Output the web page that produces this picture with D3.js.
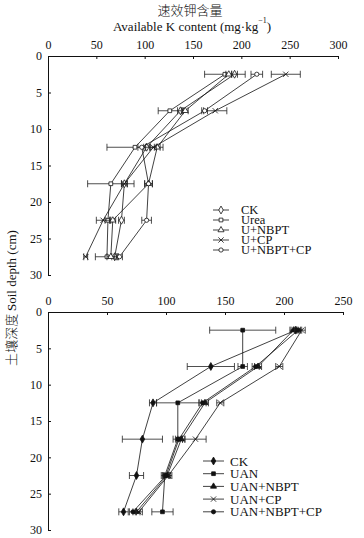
<!DOCTYPE html>
<html><head><meta charset="utf-8">
<script src="https://cdn.jsdelivr.net/npm/d3@7"></script>
<style>body{margin:0;background:#fff}svg{display:block}text{font-family:"Liberation Serif","DejaVu Serif",serif;fill:#111}</style>
</head><body><svg id="c" width="364" height="538"></svg>
<script>
const depths = [2.5, 7.5, 12.5, 17.5, 22.5, 27.5];
const yTicks = [0, 5, 10, 15, 20, 25, 30];
const topTicks = [0, 50, 100, 150, 200, 250, 300];
const bottomTicks = [0, 50, 100, 150, 200, 250];

const topNames = ["CK", "Urea", "U+NBPT", "U+CP", "U+NBPT+CP"];
const topCK = [193, 137, 102, 79, 76, 69];
const topUrea = [183, 126, 90, 65, 62, 61];
const topUNBPT = [187, 142, 113, 104, 67, 65];
const topUCP = [246, 173, 109, 79, 57, 39];
const topUNBPTCP = [216, 162, 97, 104, 102, 74];
const topCKsd = [3, 3, 3, 3, 3, 3];
const topUreaSd = [21, 12, 29, 24, 3, 12];
const topUNBPTsd = [3, 3, 3, 4, 3, 4];
const topUCPsd = [15, 12, 3, 3, 7, 2];
const topUNBPTCPsd = [6, 3, 4, 4, 5, 3];

const botNames = ["CK", "UAN", "UAN+NBPT", "UAN+CP", "UAN+NBPT+CP"];
const botCK = [210, 138, 89, 80, 75, 64];
const botUAN = [165, 165, 110, 110, 99, 97];
const botUNBPT = [208, 178, 133, 113, 101, 75];
const botUCP = [215, 196, 146, 125, 102, 77];
const botUNBPTCP = [212, 176, 131, 111, 100, 72];
const botCKsd = [4, 20, 3, 17, 6, 4];
const botUANsd = [28, 4, 18, 4, 3, 9];
const botUNBPTsd = [3, 3, 3, 3, 3, 3];
const botUCPsd = [3, 3, 3, 9, 3, 3];
const botUNBPTCPsd = [3, 3, 3, 3, 3, 3];

const svg = d3.select("#c");

function panel(opt) {
  const x = d3.scaleLinear().domain(opt.xDomain).range([48, opt.xRight]);
  const y = d3.scaleLinear().domain([0, 30]).range([opt.yTop, opt.yBottom]);
  const g = svg.append("g");
  const xa = g.append("g").attr("transform", `translate(0,${opt.yTop})`)
    .call(d3.axisTop(x).tickValues(opt.xTicks).tickSize(-3).tickPadding(6).tickFormat(d3.format("d")));
  xa.selectAll("text").attr("font-size", 12).attr("dy", "-0.1em");
  xa.select(".domain").attr("stroke", "#111");
  xa.selectAll(".tick line").attr("stroke", "#111");
  const ya = g.append("g").attr("transform", `translate(48,0)`)
    .call(d3.axisLeft(y).tickValues(yTicks).tickSize(-3).tickPadding(6));
  ya.selectAll("text").attr("font-size", 12);
  ya.select(".domain").attr("stroke", "#111");
  ya.selectAll(".tick line").attr("stroke", "#111");

  const line = d3.line().x(d => x(d.v)).y(d => y(d.d));
  opt.series.forEach((s, i) => {
    const pts = s.vals.map((v, k) => ({v, d: depths[k], sd: s.sd[k]}));
    g.append("path").attr("d", line(pts)).attr("fill", "none").attr("stroke", "#111").attr("stroke-width", 0.8);
    const eb = g.append("g").attr("stroke", "#222").attr("stroke-width", 0.8);
    pts.forEach(p => {
      eb.append("line").attr("x1", x(p.v - p.sd)).attr("x2", x(p.v + p.sd)).attr("y1", y(p.d)).attr("y2", y(p.d));
      eb.append("line").attr("x1", x(p.v - p.sd)).attr("x2", x(p.v - p.sd)).attr("y1", y(p.d) - 3.5).attr("y2", y(p.d) + 3.5);
      eb.append("line").attr("x1", x(p.v + p.sd)).attr("x2", x(p.v + p.sd)).attr("y1", y(p.d) - 3.5).attr("y2", y(p.d) + 3.5);
    });
    pts.forEach(p => drawMarker(g, s.sym, x(p.v), y(p.d), opt.filled));
  });

  opt.series.forEach((s, i) => {
    const ly = opt.legY + i * opt.legStep;
    g.append("line").attr("x1", opt.legX).attr("x2", opt.legX + opt.legLen).attr("y1", ly).attr("y2", ly)
      .attr("stroke", "#111").attr("stroke-width", 0.8);
    drawMarker(g, s.sym, opt.legX + opt.legLen / 2, ly, opt.filled);
    g.append("text").attr("x", opt.legX + opt.legLen + opt.legGap).attr("y", ly).attr("dy", "0.35em")
      .attr("font-size", opt.legFont).text(s.name);
  });
}

function drawMarker(g, sym, cx, cy, filled) {
  const sizes = {diamond: 18, square: 14, triangle: 16, x: 20, circle: 14};
  const types = {diamond: d3.symbolDiamond, square: d3.symbolSquare, triangle: d3.symbolTriangle, x: d3.symbolX, circle: d3.symbolCircle};
  const p = g.append("path").attr("d", d3.symbol().type(types[sym]).size(sizes[sym])())
    .attr("transform", `translate(${cx},${cy})`).attr("stroke", "#111").attr("stroke-width", 0.8);
  if (sym === "x") p.attr("fill", "none");
  else p.attr("fill", filled ? "#111" : "#fff");
}

panel({
  xDomain: [0, 300], xRight: 338, xTicks: topTicks, yTop: 56, yBottom: 275, filled: false,
  series: [
    {name: topNames[0], vals: topCK, sd: topCKsd, sym: "diamond"},
    {name: topNames[1], vals: topUrea, sd: topUreaSd, sym: "square"},
    {name: topNames[2], vals: topUNBPT, sd: topUNBPTsd, sym: "triangle"},
    {name: topNames[3], vals: topUCP, sd: topUCPsd, sym: "x"},
    {name: topNames[4], vals: topUNBPTCP, sd: topUNBPTCPsd, sym: "circle"}
  ],
  legX: 213, legLen: 16, legGap: 12, legY: 210, legStep: 10, legFont: 12.5
});

panel({
  xDomain: [0, 250], xRight: 343, xTicks: bottomTicks, yTop: 312, yBottom: 530, filled: true,
  series: [
    {name: botNames[0], vals: botCK, sd: botCKsd, sym: "diamond"},
    {name: botNames[1], vals: botUAN, sd: botUANsd, sym: "square"},
    {name: botNames[2], vals: botUNBPT, sd: botUNBPTsd, sym: "triangle"},
    {name: botNames[3], vals: botUCP, sd: botUCPsd, sym: "x"},
    {name: botNames[4], vals: botUNBPTCP, sd: botUNBPTCPsd, sym: "circle"}
  ],
  legX: 203, legLen: 21, legGap: 6, legY: 461, legStep: 12.7, legFont: 13
});

svg.append("text").attr("x", 190).attr("y", 10).attr("dy", "0.35em").attr("text-anchor", "middle")
  .attr("font-size", 13).style("font-family", "'Noto Sans CJK SC',sans-serif").style("font-weight", 300).text("速效钾含量");
const t = svg.append("text").attr("x", 192).attr("y", 26).attr("dy", "0.35em").attr("text-anchor", "middle").attr("font-size", 13);
t.append("tspan").text("Available K content (mg·kg");
t.append("tspan").attr("font-size", 8).attr("dy", "-0.9em").text("−1");
t.append("tspan").attr("dy", "0.55em").text(")");

const yl = svg.append("text").attr("transform", "translate(11,298) rotate(-90)").attr("text-anchor", "middle")
  .attr("dy", "0.35em").attr("font-size", 13);
yl.append("tspan").style("font-family", "'Noto Sans CJK SC',sans-serif").style("font-weight", 300).text("土壤深度 ");
yl.append("tspan").text("Soil depth (cm)");
</script></body></html>
